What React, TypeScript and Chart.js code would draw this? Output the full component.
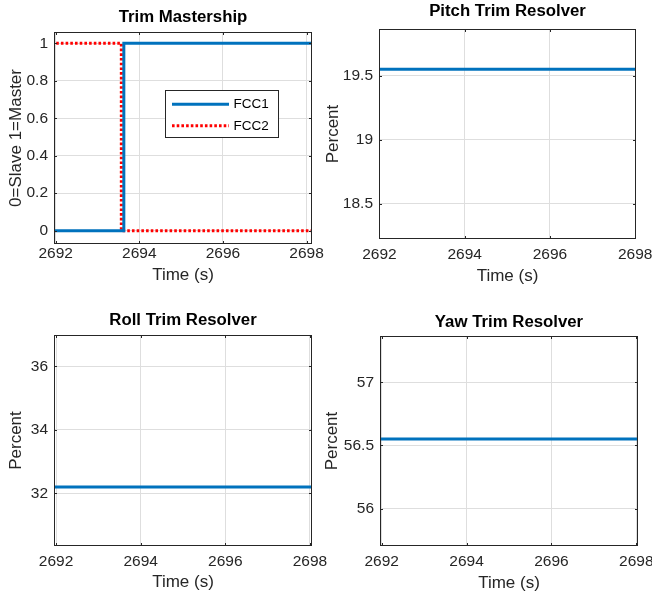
import React, { useEffect, useRef } from "react";
import { Chart, registerables } from "chart.js";

Chart.register(...registerables);

// ---------------- data ----------------
const TIME_TICKS = [2692, 2694, 2696, 2698];
const TIME_LABEL = "Time (s)";

const FCC1_TIME = [2691.9, 2693.63, 2698.2];
const FCC1_STATE = [0, 1, 1];
const FCC2_TIME = [2691.9, 2693.57, 2698.2];
const FCC2_STATE = [1, 0, 0];
const MASTER_TICKS = [0, 0.2, 0.4, 0.6, 0.8, 1];

const RESOLVER_TIME = [2691.9, 2698.2];
const PITCH_PCT = [19.55, 19.55];
const PITCH_TICKS = [18.5, 19, 19.5];
const ROLL_PCT = [32.2, 32.2];
const ROLL_TICKS = [32, 34, 36];
const YAW_PCT = [56.55, 56.55];
const YAW_TICKS = [56, 56.5, 57];

// ---------------- styles ----------------
const W = 652;
const H = 594;
const FONT = '"Liberation Sans", Arial, Helvetica, sans-serif';
const TITLE_SIZE = 16.8;
const LABEL_SIZE = 17;
const TICK_SIZE = 15.5;
const LEGEND_SIZE = 13.5;
const TEXT_COLOR = "#262626";
const AXIS_COLOR = "#262626";
const GRID_COLOR = "#dedede";
const BLUE = "#0072BD";
const RED = "#FF0000";
const TICK_LEN = 3;

type Series = { label: string; xs: number[]; ys: number[]; color: string; dash?: number[]; stepped?: boolean };
type Panel = {
  title: string;
  yLabel: string;
  xMin: number; xMax: number; yMin: number; yMax: number;
  yTicks: number[];
  series: Series[];
  box: { l: number; r: number; t: number; b: number };
  titleY: number; yTitleX: number; xTickY: number; xTitleY: number;
  legend?: { x: number; y: number; w: number; h: number; x0: number; x1: number; tx: number; rows: number[] };
};

const PANELS: Panel[] = [
  {
    title: "Trim Mastership",
    yLabel: "0=Slave 1=Master",
    xMin: 2691.96, xMax: 2698.13, yMin: -0.071, yMax: 1.06,
    yTicks: MASTER_TICKS,
    series: [
      { label: "FCC1", xs: FCC1_TIME, ys: FCC1_STATE, color: BLUE, stepped: true },
      { label: "FCC2", xs: FCC2_TIME, ys: FCC2_STATE, color: RED, dash: [2.6, 2.1], stepped: true },
    ],
    box: { l: 54, r: 312, t: 32, b: 244 },
    titleY: 17.2, yTitleX: 16.5, xTickY: 253.8, xTitleY: 275.8,
    legend: { x: 165.5, y: 90.5, w: 113, h: 47, x0: 172, x1: 229, tx: 233.5, rows: [104.2, 125.8] },
  },
  {
    title: "Pitch Trim Resolver",
    yLabel: "Percent",
    xMin: 2691.99, xMax: 2698.02, yMin: 18.224, yMax: 19.865,
    yTicks: PITCH_TICKS,
    series: [{ label: "Pitch", xs: RESOLVER_TIME, ys: PITCH_PCT, color: BLUE }],
    box: { l: 379, r: 636, t: 29, b: 239 },
    titleY: 11.3, yTitleX: 333, xTickY: 255.2, xTitleY: 276.7,
  },
  {
    title: "Roll Trim Resolver",
    yLabel: "Percent",
    xMin: 2691.95, xMax: 2698.05, yMin: 30.34, yMax: 36.986,
    yTicks: ROLL_TICKS,
    series: [{ label: "Roll", xs: RESOLVER_TIME, ys: ROLL_PCT, color: BLUE }],
    box: { l: 54, r: 312, t: 335, b: 546 },
    titleY: 320.8, yTitleX: 16.7, xTickY: 561.5, xTitleY: 582,
  },
  {
    title: "Yaw Trim Resolver",
    yLabel: "Percent",
    xMin: 2691.96, xMax: 2698.04, yMin: 55.703, yMax: 57.367,
    yTicks: YAW_TICKS,
    series: [{ label: "Yaw", xs: RESOLVER_TIME, ys: YAW_PCT, color: BLUE }],
    box: { l: 380, r: 638, t: 336, b: 546 },
    titleY: 322, yTitleX: 332, xTickY: 561.5, xTitleY: 583,
  },
];

const framePlugin = {
  id: "matlabFrame",
  afterDatasetsDraw(chart: any, _args: any, opts: any) {
    const { ctx, chartArea: a, scales } = chart;
    ctx.save();
    ctx.strokeStyle = AXIS_COLOR;
    ctx.lineWidth = 1;
    ctx.setLineDash([]);
    ctx.beginPath();
    for (const t of scales.x.ticks) {
      const px = Math.round(scales.x.getPixelForValue(t.value)) + 0.5;
      ctx.moveTo(px, a.bottom);
      ctx.lineTo(px, a.bottom - TICK_LEN);
      ctx.moveTo(px, a.top);
      ctx.lineTo(px, a.top + TICK_LEN);
    }
    for (const t of scales.y.ticks) {
      const py = Math.round(scales.y.getPixelForValue(t.value)) + 0.5;
      ctx.moveTo(a.left, py);
      ctx.lineTo(a.left + TICK_LEN, py);
      ctx.moveTo(a.right, py);
      ctx.lineTo(a.right - TICK_LEN, py);
    }
    ctx.stroke();
    ctx.strokeRect(a.left + 0.5, a.top + 0.5, a.right - a.left - 1, a.bottom - a.top - 1);

    const lg = opts && opts.legend;
    if (lg) {
      ctx.fillStyle = "#ffffff";
      ctx.fillRect(lg.x, lg.y, lg.w, lg.h);
      ctx.strokeStyle = AXIS_COLOR;
      ctx.lineWidth = 1;
      ctx.strokeRect(lg.x, lg.y, lg.w, lg.h);
      chart.data.datasets.forEach((ds: any, i: number) => {
        const y = lg.rows[i];
        ctx.save();
        ctx.strokeStyle = ds.borderColor;
        ctx.lineWidth = ds.borderWidth;
        ctx.setLineDash(ds.borderDash || []);
        ctx.beginPath();
        ctx.moveTo(lg.x0, y);
        ctx.lineTo(lg.x1, y);
        ctx.stroke();
        ctx.restore();
        ctx.fillStyle = "#000000";
        ctx.font = `${LEGEND_SIZE}px ${FONT}`;
        ctx.textAlign = "left";
        ctx.textBaseline = "middle";
        ctx.fillText(ds.label, lg.tx, y);
      });
    }
    ctx.restore();
  },
};

function buildConfig(p: Panel): any {
  const padLeft = p.yTitleX - LABEL_SIZE / 2;
  const padTop = p.titleY - TITLE_SIZE / 2;
  const padRight = W - p.box.r;
  const padBottom = H - (p.xTitleY + LABEL_SIZE / 2);
  const yAxisWidth = p.box.l - padLeft;
  const xAxisHeight = p.xTitleY + LABEL_SIZE / 2 - p.box.b;
  const yTicks = p.yTicks;
  return {
    type: "line",
    data: {
      datasets: p.series.map((s) => ({
        label: s.label,
        data: s.xs.map((x, i) => ({ x, y: s.ys[i] })),
        borderColor: s.color,
        backgroundColor: s.color,
        borderWidth: 3,
        borderDash: s.dash || [],
        stepped: s.stepped ? "before" : false,
        pointRadius: 0,
        pointHoverRadius: 0,
        fill: false,
        tension: 0,
        clip: 0,
      })),
    },
    options: {
      responsive: false,
      maintainAspectRatio: false,
      animation: false,
      devicePixelRatio: 1,
      events: [],
      layout: { padding: { left: padLeft, top: padTop, right: padRight, bottom: padBottom } },
      plugins: {
        legend: { display: false },
        tooltip: { enabled: false },
        title: {
          display: true,
          text: p.title,
          fullSize: false,
          color: "#000000",
          font: { family: FONT, size: TITLE_SIZE, weight: "bold", lineHeight: 1 },
          padding: { top: 0, bottom: p.box.t - p.titleY - TITLE_SIZE / 2 },
        },
        matlabFrame: { legend: p.legend },
      },
      scales: {
        x: {
          type: "linear",
          position: "bottom",
          min: p.xMin,
          max: p.xMax,
          afterBuildTicks: (s: any) => {
            s.ticks = TIME_TICKS.map((v) => ({ value: v }));
          },
          afterFit: (s: any) => {
            s.height = xAxisHeight;
            s.paddingLeft = 0;
            s.paddingRight = 0;
            s.paddingTop = 0;
            s.paddingBottom = 0;
          },
          ticks: {
            autoSkip: false,
            maxRotation: 0,
            minRotation: 0,
            padding: p.xTickY - p.box.b - TICK_SIZE / 2,
            color: TEXT_COLOR,
            font: { family: FONT, size: TICK_SIZE, lineHeight: 1 },
            callback: (v: any) => String(v),
          },
          grid: { color: GRID_COLOR, lineWidth: 1, drawTicks: false },
          border: { display: false },
          title: {
            display: true,
            text: TIME_LABEL,
            color: TEXT_COLOR,
            font: { family: FONT, size: LABEL_SIZE, lineHeight: 1 },
            padding: { top: 0, bottom: 0 },
          },
        },
        y: {
          type: "linear",
          position: "left",
          min: p.yMin,
          max: p.yMax,
          afterBuildTicks: (s: any) => {
            s.ticks = yTicks.map((v) => ({ value: v }));
          },
          afterFit: (s: any) => {
            s.width = yAxisWidth;
            s.paddingLeft = 0;
            s.paddingRight = 0;
            s.paddingTop = 0;
            s.paddingBottom = 0;
          },
          ticks: {
            autoSkip: false,
            padding: 6,
            color: TEXT_COLOR,
            font: { family: FONT, size: TICK_SIZE, lineHeight: 1 },
            callback: (v: any) => String(v),
          },
          grid: { color: GRID_COLOR, lineWidth: 1, drawTicks: false },
          border: { display: false },
          title: {
            display: true,
            text: p.yLabel,
            color: TEXT_COLOR,
            font: { family: FONT, size: LABEL_SIZE, lineHeight: 1 },
            padding: { top: 0, bottom: 0 },
          },
        },
      },
    },
    plugins: [framePlugin],
  };
}

function PanelLayer({ panel }: { panel: Panel }) {
  const ref = useRef<HTMLCanvasElement>(null);
  useEffect(() => {
    if (!ref.current) return;
    const chart = new Chart(ref.current, buildConfig(panel));
    return () => chart.destroy();
  }, [panel]);
  return (
    <canvas
      ref={ref}
      width={W}
      height={H}
      style={{ position: "absolute", left: 0, top: 0, width: W, height: H }}
    />
  );
}

export default function App() {
  return (
    <div style={{ position: "absolute", left: 0, top: 0, width: W, height: H, background: "#ffffff", overflow: "hidden" }}>
      {PANELS.map((p) => (
        <PanelLayer key={p.title} panel={p} />
      ))}
    </div>
  );
}
